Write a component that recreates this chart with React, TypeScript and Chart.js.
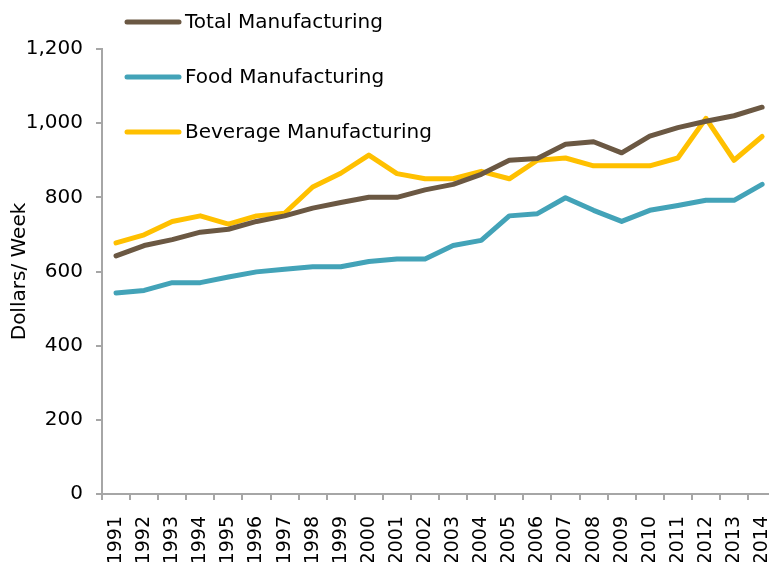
import React, { useEffect, useRef } from "react";
import { Chart, registerables } from "chart.js";

Chart.register(...registerables);

const years = ["1991","1992","1993","1994","1995","1996","1997","1998","1999","2000","2001","2002","2003","2004","2005","2006","2007","2008","2009","2010","2011","2012","2013","2014"];
const totalManufacturing = [642,670,686,706,714,735,750,771,786,800,800,820,835,862,900,905,943,950,920,965,988,1005,1020,1043];
const foodManufacturing = [542,549,570,570,585,599,606,613,613,627,634,634,670,684,750,756,799,765,735,765,778,792,792,835];
const beverageManufacturing = [677,699,735,750,728,750,757,828,865,914,864,850,850,870,850,900,906,885,885,885,906,1013,900,964];
const yTicks = [0,200,400,600,800,1000,1200];

const seriesNames = ["Total Manufacturing","Food Manufacturing","Beverage Manufacturing"];
const seriesColors = ["#6B5843","#43A3B8","#FFC000"];

const FONT = '"DejaVu Sans", sans-serif';
const AXIS = "#A6A6A6";

const legendPlugin = {
  id: "customLegend",
  afterDraw(chart: any) {
    const ctx = chart.ctx;
    ctx.save();
    const rowsY = [22, 77, 132];
    seriesNames.forEach((name, i) => {
      const y = rowsY[i];
      ctx.strokeStyle = seriesColors[i];
      ctx.lineWidth = 5;
      ctx.lineCap = "round";
      ctx.beginPath();
      ctx.moveTo(127, y);
      ctx.lineTo(179, y);
      ctx.stroke();
      ctx.fillStyle = "#000";
      ctx.font = `20px ${FONT}`;
      ctx.textBaseline = "middle";
      ctx.textAlign = "left";
      ctx.fillText(name, 185, y + 1);
    });
    ctx.restore();
  },
};

export default function App() {
  const ref = useRef<HTMLCanvasElement | null>(null);
  useEffect(() => {
    if (!ref.current) return;
    Chart.defaults.font.family = FONT;
    const datasets = [totalManufacturing, foodManufacturing, beverageManufacturing].map((d, i) => ({
      label: seriesNames[i],
      data: d,
      borderColor: seriesColors[i],
      backgroundColor: seriesColors[i],
      borderWidth: 5,
      pointRadius: 0,
      borderJoinStyle: "round" as const,
      borderCapStyle: "round" as const,
      tension: 0,
    }));
    const chart = new Chart(ref.current, {
      type: "line",
      data: { labels: years, datasets },
      plugins: [legendPlugin],
      options: {
        animation: false,
        responsive: false,
        devicePixelRatio: 1,
        layout: { padding: { top: 49, right: 4, left: 0, bottom: 0 } },
        plugins: { legend: { display: false }, tooltip: { enabled: false } },
        scales: {
          x: {
            type: "category",
            offset: true,
            grid: { display: true, drawOnChartArea: false, drawTicks: true, tickLength: 6, color: AXIS, lineWidth: 2, offset: true },
            border: { display: true, color: AXIS, width: 2 },
            ticks: { minRotation: 90, maxRotation: 90, autoSkip: false, font: { size: 19 }, color: "#000", padding: 16 },
            afterFit: (s: any) => { s.height = 68; },
          },
          y: {
            min: 0,
            max: 1200,
            afterBuildTicks: (s: any) => { s.ticks = yTicks.map((v) => ({ value: v })); },
            grid: { display: true, drawOnChartArea: false, drawTicks: true, tickLength: 6, color: AXIS, lineWidth: 2 },
            border: { display: true, color: AXIS, width: 2 },
            ticks: { font: { size: 20 }, color: "#000", padding: 13, callback: (v: any) => Number(v).toLocaleString("en-US") },
            title: { display: true, text: "Dollars/ Week", font: { size: 20 }, color: "#000", padding: { top: 8, bottom: 0 } },
            afterFit: (s: any) => { s.width = 102; },
          },
        },
      },
    });
    return () => chart.destroy();
  }, []);
  return (
    <div style={{ position: "fixed", left: 0, top: 0, width: 769, height: 562, overflow: "hidden", background: "#fff" }}>
      <canvas ref={ref} width={801} height={562} style={{ width: 801, height: 562, display: "block" }} />
    </div>
  );
}
